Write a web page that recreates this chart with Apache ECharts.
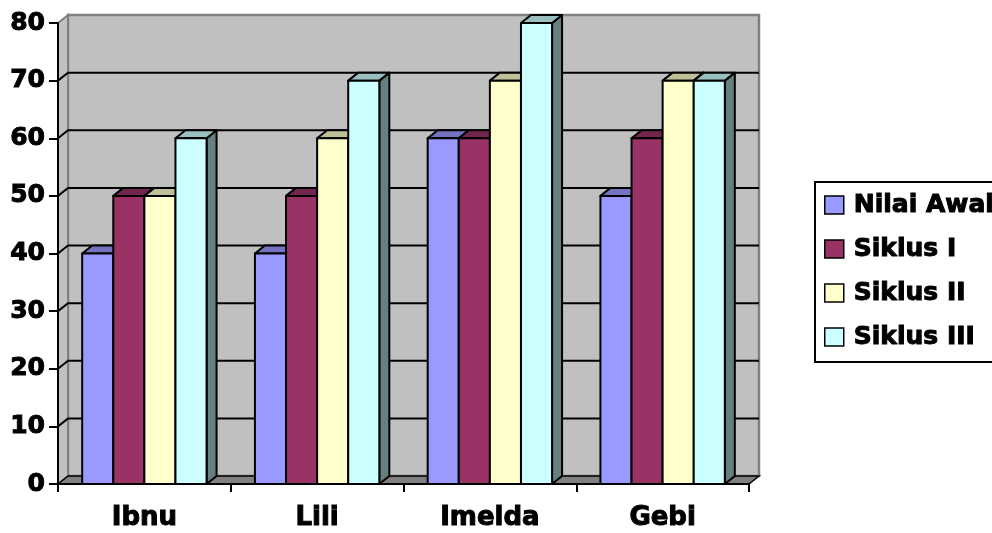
<!DOCTYPE html>
<html>
<head>
<meta charset="utf-8">
<script src="https://cdn.jsdelivr.net/npm/echarts@6/dist/echarts.min.js"></script>
<style>
  html, body { margin: 0; padding: 0; background: #ffffff; }
  #chart { width: 992px; height: 533px; }
</style>
</head>
<body>
<div id="chart"></div>
<script>
// Students and their scores per cycle
const categories = ['Ibnu', 'Lili', 'Imelda', 'Gebi'];
const seriesNames = ['Nilai Awal', 'Siklus I', 'Siklus II', 'Siklus III'];
const nilaiAwal = [40, 40, 60, 50];
const siklusI   = [50, 50, 60, 60];
const siklusII  = [50, 60, 70, 70];
const siklusIII = [60, 70, 80, 70];
const yTicks = [0, 10, 20, 30, 40, 50, 60, 70, 80];

const seriesValues = [nilaiAwal, siklusI, siklusII, siklusIII];
const colors = ['#9999FF', '#993366', '#FFFFCC', '#CCFFFF'];

// depth of the pseudo-3D extrusion (pixels)
const DX = 10, DY = 8;
const BAR_RATIO = 0.18; // each bar's share of a category band
const FONT = 'DejaVu Sans';
const heavyText = { color: '#000', fontFamily: FONT, fontWeight: 'bold', textBorderColor: '#000', textBorderWidth: 1 };

function shade(hex, f) {
  const n = parseInt(hex.slice(1), 16);
  const r = Math.round(((n >> 16) & 255) * f);
  const g = Math.round(((n >> 8) & 255) * f);
  const b = Math.round((n & 255) * f);
  return 'rgb(' + r + ',' + g + ',' + b + ')';
}

function renderBar(params, api) {
  const si = params.seriesIndex;
  const cat = api.value(0);
  const val = api.value(1);
  const base = api.coord([cat, 0]);
  const top = api.coord([cat, val]);
  const band = api.size([1, 0])[0];
  const w = band * BAR_RATIO;
  const x0 = base[0] - (w * seriesValues.length) / 2 + si * w;
  const x1 = x0 + w;
  const yt = top[1], yb = base[1];
  const c = colors[si];
  const edge = { stroke: '#000', lineWidth: 2, lineJoin: 'round' };
  return {
    type: 'group',
    children: [
      { type: 'polygon', shape: { points: [[x1, yt], [x1 + DX, yt - DY], [x1 + DX, yb - DY], [x1, yb]] },
        style: Object.assign({ fill: shade(c, 0.5) }, edge) },
      { type: 'polygon', shape: { points: [[x0, yt], [x0 + DX, yt - DY], [x1 + DX, yt - DY], [x1, yt]] },
        style: Object.assign({ fill: shade(c, 0.75) }, edge) },
      { type: 'rect', shape: { x: x0, y: yt, width: w, height: yb - yt },
        style: Object.assign({ fill: c }, edge) }
    ]
  };
}

function renderWalls(params, api) {
  const cs = params.coordSys;
  const x0 = cs.x, x1 = cs.x + cs.width;
  const yTop = cs.y, yBase = cs.y + cs.height;
  const children = [
    // back wall
    { type: 'polygon', shape: { points: [[x0 + DX, yTop - DY], [x1 + DX, yTop - DY], [x1 + DX, yBase - DY], [x0 + DX, yBase - DY]] },
      style: { fill: '#C0C0C0', stroke: '#808080', lineWidth: 2.5 } },
    // side wall
    { type: 'polygon', shape: { points: [[x0, yTop], [x0 + DX, yTop - DY], [x0 + DX, yBase - DY], [x0, yBase]] },
      style: { fill: '#C0C0C0', stroke: '#808080', lineWidth: 2 } },
    // floor
    { type: 'polygon', shape: { points: [[x0, yBase], [x0 + DX, yBase - DY], [x1 + DX, yBase - DY], [x1, yBase]] },
      style: { fill: '#808080', stroke: '#000', lineWidth: 1.5 } }
  ];
  const lo = yTicks[0], hi = yTicks[yTicks.length - 1];
  yTicks.forEach(function (v) {
    if (v <= lo || v >= hi) return;
    const y = api.coord([0, v])[1];
    children.push({ type: 'polyline', shape: { points: [[x0, y], [x0 + DX, y - DY], [x1 + DX, y - DY]] },
      style: { stroke: '#000', lineWidth: 2, fill: null } });
  });
  return { type: 'group', children: children };
}

const series = seriesNames.map(function (name, i) {
  return {
    name: name,
    type: 'custom',
    renderItem: renderBar,
    clip: false,
    z: 3,
    itemStyle: { color: colors[i] },
    encode: { x: 0, y: 1 },
    data: seriesValues[i].map(function (v, k) { return [k, v]; })
  };
});
series.push({
  name: 'walls',
  type: 'custom',
  renderItem: renderWalls,
  clip: false,
  silent: true,
  z: 1,
  data: [[0, 0]]
});

const chart = echarts.init(document.getElementById('chart'), null, { renderer: 'canvas' });
chart.setOption({
  animation: false,
  backgroundColor: '#ffffff',
  grid: { left: 58, right: 243, top: 23, bottom: 49 },
  xAxis: {
    type: 'category',
    data: categories,
    z: 10,
    axisLine: { lineStyle: { color: '#000', width: 2 } },
    axisTick: { show: true, length: 8, lineStyle: { color: '#000', width: 2 } },
    axisLabel: Object.assign({ fontSize: 26, margin: 21 }, heavyText),
    splitLine: { show: false }
  },
  yAxis: {
    type: 'value',
    min: 0, max: 80, interval: 10,
    z: 10,
    axisLine: { show: true, lineStyle: { color: '#000', width: 2 } },
    axisTick: { show: true, length: 9, lineStyle: { color: '#000', width: 2 } },
    axisLabel: Object.assign({ fontSize: 25, margin: 13 }, heavyText),
    splitLine: { show: false }
  },
  legend: {
    data: seriesNames,
    orient: 'vertical',
    left: 815, top: 182,
    icon: 'rect',
    itemWidth: 19, itemHeight: 18,
    itemGap: 18,
    padding: [10, 60, 12, 9],
    borderColor: '#000', borderWidth: 2,
    backgroundColor: '#ffffff',
    itemStyle: { borderColor: '#000', borderWidth: 1.5 },
    textStyle: Object.assign({ fontSize: 25, lineHeight: 26, padding: [0, 0, 0, 5] }, heavyText)
  },
  series: series
});
</script>
</body>
</html>
